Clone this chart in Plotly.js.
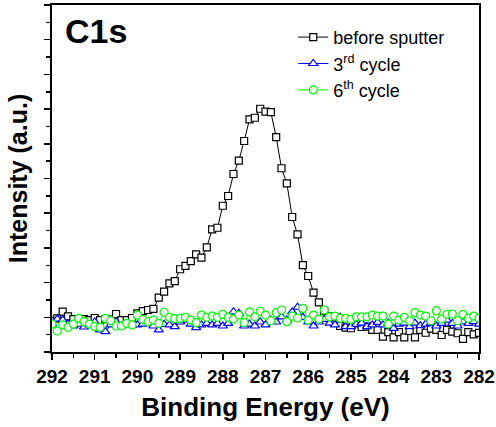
<!DOCTYPE html>
<html>
<head>
<meta charset="utf-8">
<script src="https://cdn.plot.ly/plotly-3.0.1.min.js"></script>
<style>html,body{margin:0;padding:0;background:#fff;}#chart{width:496px;height:427px;}
#chart .xtick text{font-weight:700 !important;}</style>
</head>
<body>
<div id="chart"></div>
<script>
// Binding energy (eV)
var energy = [
 292,291.875,291.75,291.625,291.5,291.375,291.25,291.125,
 291,290.875,290.75,290.625,290.5,290.375,290.25,290.125,
 290,289.875,289.75,289.625,289.5,289.375,289.25,289.125,
 289,288.875,288.75,288.625,288.5,288.375,288.25,288.125,
 288,287.875,287.75,287.625,287.5,287.375,287.25,287.125,
 287,286.875,286.75,286.625,286.5,286.375,286.25,286.125,
 286,285.875,285.75,285.625,285.5,285.375,285.25,285.125,
 285,284.875,284.75,284.625,284.5,284.375,284.25,284.125,
 284,283.875,283.75,283.625,283.5,283.375,283.25,283.125,
 283,282.875,282.75,282.625,282.5,282.375,282.25,282.125,
 282
];
// Intensity (a.u.)
var beforeSputter = [
 1.79,1.94,2.33,2.05,1.90,1.84,1.90,1.84,
 1.96,1.84,1.90,1.87,2.19,1.84,1.84,1.96,
 2.23,2.36,2.42,2.48,3.13,3.48,3.96,4.09,
 4.77,4.96,5.24,5.63,5.44,6.03,7.07,7.16,
 8.43,8.99,10.26,11.03,12.16,13.41,13.50,14.02,
 13.85,13.82,12.39,10.59,9.72,7.78,6.78,5.01,
 4.38,3.42,2.86,2.36,2.07,2.00,1.50,1.41,
 1.37,1.65,1.44,1.46,1.27,1.27,0.89,1.15,
 0.84,1.15,0.84,1.21,0.84,1.27,1.11,1.35,
 1.27,0.98,1.27,1.18,1.08,0.76,1.15,1.02,
 1.10
];
var cycle3 = [
 1.61,1.90,1.84,1.61,1.50,1.60,1.44,1.56,
 1.73,1.27,1.17,1.56,1.75,1.50,1.61,1.56,
 1.56,1.61,1.75,1.50,1.27,1.60,1.56,1.46,
 1.73,1.84,1.61,1.40,1.56,1.65,1.56,1.65,
 1.50,1.65,2.32,2.23,1.50,1.61,1.50,1.73,
 1.56,1.84,1.73,2.03,1.84,2.31,2.58,2.00,
 1.73,1.50,1.73,1.88,1.67,1.56,2.00,1.46,
 1.46,1.60,1.67,1.46,1.56,1.71,1.56,1.67,
 1.36,1.61,1.67,1.46,1.67,1.52,1.61,1.67,
 1.50,1.65,1.84,1.65,1.50,1.73,1.65,1.75,
 1.61
];
var cycle6 = [
 1.61,1.21,1.56,1.42,1.61,1.94,1.75,1.61,
 1.46,1.42,1.94,1.80,1.50,1.50,1.65,1.56,
 2.13,1.88,1.75,1.84,1.65,2.29,2.00,1.92,
 1.94,2.00,1.84,1.69,2.13,2.00,2.07,2.00,
 2.17,2.00,1.90,2.13,1.69,2.31,2.03,2.35,
 2.13,1.80,2.27,2.42,1.75,2.07,1.96,2.52,
 1.84,2.13,1.90,2.42,2.03,2.07,1.94,1.94,
 1.88,2.03,2.03,2.03,2.13,2.07,2.07,1.61,
 2.07,1.84,2.00,1.80,2.27,2.13,2.07,1.80,
 2.38,1.90,2.17,2.19,1.80,2.17,1.94,2.07,
 1.94
];
var seriesNames = ['before sputter', '3<sup>rd</sup> cycle', '6<sup>th</sup> cycle'];
var xTickVals = [292,291,290,289,288,287,286,285,284,283,282];

var F = 'Arial, "Liberation Sans", sans-serif';
var traces = [
 {x: energy, y: beforeSputter, name: seriesNames[0], type: 'scatter', mode: 'lines+markers',
  line: {color: '#000000', width: 1},
  marker: {symbol: 'square', size: 7, color: '#ffffff', line: {color: '#000000', width: 1.2}}},
 {x: energy, y: cycle3, name: seriesNames[1], type: 'scatter', mode: 'lines+markers',
  line: {color: '#0000ff', width: 1},
  marker: {symbol: 'triangle-up', size: 8, color: '#ffffff', line: {color: '#0000ff', width: 1.2}}},
 {x: energy, y: cycle6, name: seriesNames[2], type: 'scatter', mode: 'lines+markers',
  line: {color: '#00ff00', width: 1},
  marker: {symbol: 'circle', size: 8, color: '#ffffff', line: {color: '#00ff00', width: 1.2}}}
];

var layout = {
 width: 496, height: 427,
 margin: {l: 52, r: 17, t: 5, b: 75},
 paper_bgcolor: '#ffffff', plot_bgcolor: '#ffffff',
 showlegend: true,
 legend: {x: 0.565, y: 0.96, xanchor: 'left', yanchor: 'top', bgcolor: 'rgba(0,0,0,0)',
  font: {family: F, size: 18, color: '#000'}, tracegroupgap: 0},
 xaxis: {range: [292, 282], tickmode: 'array', tickvals: xTickVals,
  ticktext: xTickVals.map(function (v) { return '<b>' + v + '</b>'; }),
  ticks: 'outside', ticklen: 6, tickwidth: 1.5, tickcolor: '#000',
  minor: {dtick: 0.5, ticks: 'outside', ticklen: 4, tickwidth: 1.5, tickcolor: '#000'},
  showline: true, linecolor: '#000', linewidth: 2, mirror: true, showgrid: false, zeroline: false,
  tickfont: {family: F, size: 19, color: '#000', weight: 700},
  title: {text: '<b>Binding Energy (eV)</b>', font: {family: F, size: 26, color: '#000'}, standoff: 12}},
 yaxis: {range: [0, 20], dtick: 2, showticklabels: false,
  ticks: 'outside', ticklen: 6, tickwidth: 1.5, tickcolor: '#000',
  minor: {dtick: 1, ticks: 'outside', ticklen: 4, tickwidth: 1.5, tickcolor: '#000'},
  showline: true, linecolor: '#000', linewidth: 2, mirror: true, showgrid: false, zeroline: false,
  title: {text: '<b>Intensity (a.u.)</b>', font: {family: F, size: 25, color: '#000'}, standoff: 9}},
 annotations: [
  {text: '<b>C1s</b>', xref: 'paper', yref: 'paper', x: 0.025, y: 0.985, xanchor: 'left', yanchor: 'top',
   showarrow: false, font: {family: F, size: 34, color: '#000'}}
 ]
};

Plotly.newPlot('chart', traces, layout, {displayModeBar: false, staticPlot: true});
</script>
</body>
</html>
